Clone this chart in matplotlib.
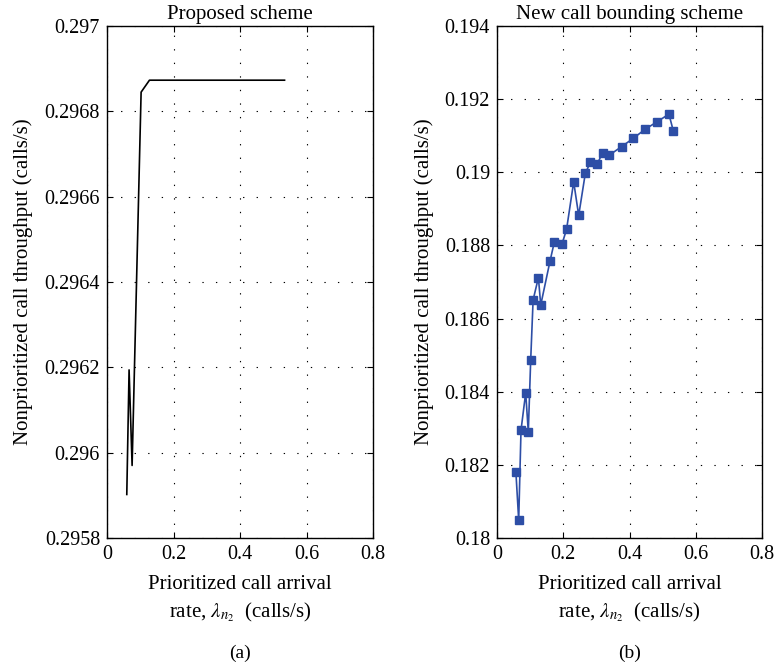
import matplotlib
matplotlib.use("Agg")
import matplotlib.pyplot as plt
from matplotlib.ticker import FuncFormatter
import numpy as np

# (a) proposed scheme
xa = [0.0595, 0.0664, 0.0755, 0.1026, 0.1277, 0.534]
ya = [0.295902, 0.296194, 0.29597, 0.296845, 0.296873, 0.296873]

# (b) new call bounding scheme
xb = [0.057, 0.0655, 0.0725, 0.0866, 0.0945, 0.1017, 0.109, 0.125, 0.132,
      0.16, 0.173, 0.196, 0.21, 0.2315, 0.2466, 0.2666, 0.2818, 0.3028,
      0.319, 0.339, 0.376, 0.4116, 0.4478, 0.483, 0.519, 0.532]
yb = [0.18181, 0.18049, 0.18295, 0.18397, 0.18290, 0.18486, 0.18651,
      0.18712, 0.18637, 0.18757, 0.18809, 0.18803, 0.18844, 0.18974,
      0.18882, 0.18997, 0.19027, 0.19023, 0.19054, 0.19047, 0.19070,
      0.19093, 0.19118, 0.19138, 0.19159, 0.19114]

xticks = [0, 0.2, 0.4, 0.6, 0.8]
xticklabels = ["0", "0.2", "0.4", "0.6", "0.8"]
yticks_a = np.linspace(0.2958, 0.297, 7)
yticks_b = np.linspace(0.18, 0.194, 8)

plt.rcParams["font.family"] = ["Liberation Serif", "DejaVu Serif"]
plt.rcParams["mathtext.fontset"] = "stix"
plt.rcParams["font.size"] = 14

fig = plt.figure(figsize=(7.76, 6.72), dpi=100)
ax1 = fig.add_axes([107/776, 134/672, 266/776, 512/672])
ax2 = fig.add_axes([497/776, 134/672, 265/776, 512/672])

ax1.plot(xa, ya, color="black", lw=1.2)
ax2.plot(xb, yb, color="#2d4ea6", lw=1.2, marker="s", ms=6,
         markeredgecolor="#2d4ea6")

xlabel = "Prioritized call arrival\nrate, $\\lambda_{n_2}$  (calls/s)"
ylabel = "Nonprioritized call throughput (calls/s)"
fmt = FuncFormatter(lambda v, p: "%g" % round(v, 6))

for ax, yt, title, tag in [(ax1, yticks_a, "Proposed scheme", "(a)"),
                           (ax2, yticks_b, "New call bounding scheme", "(b)")]:
    ax.set_xlim(0, 0.8)
    ax.set_ylim(yt[0], yt[-1])
    ax.set_xticks(xticks)
    ax.set_xticklabels(xticklabels)
    ax.set_yticks(yt)
    ax.yaxis.set_major_formatter(fmt)
    ax.tick_params(direction="in", top=True, right=True, length=4, width=0.8,
                   labelsize=14.5, pad=5)
    ax.grid(True, color="black", linestyle=(0, (1.2, 11)), lw=0.8)
    ax.set_title(title, fontsize=15, pad=5)
    ax.set_xlabel(xlabel, fontsize=15, labelpad=8, linespacing=1.4)
    ax.set_ylabel(ylabel, fontsize=15, labelpad=8)
    for s in ax.spines.values():
        s.set_linewidth(1.0)
    ax.text(0.5, -0.225, tag, transform=ax.transAxes, ha="center",
            va="center", fontsize=14)

fig.savefig("out.png", dpi=100)
